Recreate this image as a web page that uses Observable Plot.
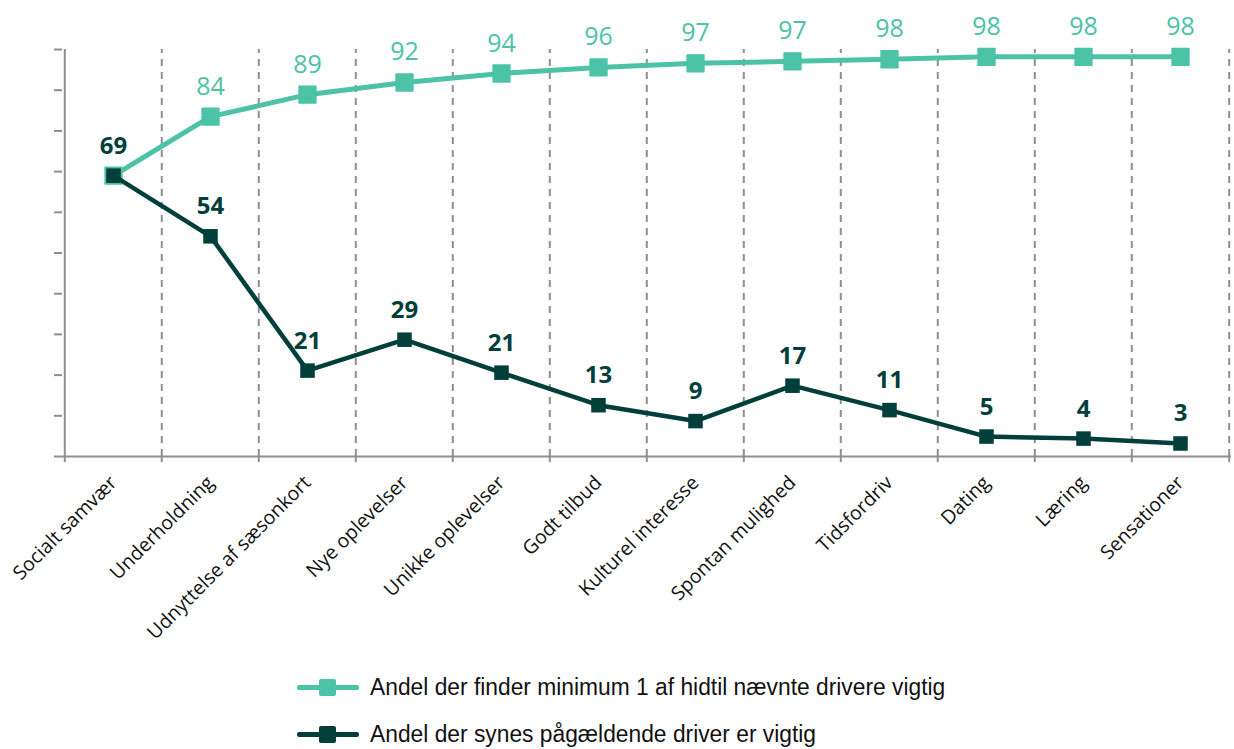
<!DOCTYPE html>
<html><head><meta charset="utf-8">
<script src="https://cdn.jsdelivr.net/npm/d3@7"></script>
<script src="https://cdn.jsdelivr.net/npm/@observablehq/plot@0.6"></script>
<style>
body{margin:0;background:#fff;width:1234px;height:749px;overflow:hidden;position:relative;}
#legend{position:absolute;left:297px;top:0;font-family:"Liberation Sans",Arial,sans-serif;font-size:23.5px;color:#111;}
.row{position:absolute;left:0;display:flex;align-items:center;height:28px;line-height:28px;white-space:nowrap;}
.row span{display:inline-block;transform:scaleX(0.97);transform-origin:left center;}
.sw{position:relative;width:62px;height:20px;margin-right:11px;}
.sw .ln{position:absolute;left:0;right:0;top:8px;height:5px;border-radius:2px;}
.sw .sq{position:absolute;left:22px;top:2px;width:17px;height:17px;border-radius:2px;}
</style></head>
<body>
<div id="chart"></div>
<div id="legend"></div>
<script>
const categories = ["Socialt samvær","Underholdning","Udnyttelse af sæsonkort","Nye oplevelser","Unikke oplevelser","Godt tilbud","Kulturel interesse","Spontan mulighed","Tidsfordriv","Dating","Læring","Sensationer"];
const minimumOne = [69, 83.5, 88.9, 91.9, 94.1, 95.6, 96.6, 97.1, 97.6, 98.2, 98.2, 98.2];
const thisDriver = [69, 54.1, 21.1, 28.7, 20.6, 12.6, 8.7, 17.4, 11.4, 4.9, 4.4, 3.2];
const seriesNames = ["Andel der finder minimum 1 af hidtil nævnte drivere vigtig","Andel der synes pågældende driver er vigtig"];
const teal = "#4cc2a6", dark = "#023f3b", grid = "#8f8f8f";

const rowsA = categories.map((c,i)=>({cat:c, v:minimumOne[i]}));
const rowsB = categories.map((c,i)=>({cat:c, v:thisDriver[i]}));
const W = 1234, H = 640, mL = 62, mR = 3;
const step = (W - mL - mR) / categories.length;

const chart = Plot.plot({
  width: W, height: H,
  marginLeft: mL, marginRight: mR, marginTop: 49, marginBottom: H - 456,
  style: {fontFamily: "'Open Sans', sans-serif", background: "#fff"},
  x: {type: "point", domain: categories, padding: 0.5, align: 0.5},
  y: {domain: [0, 100]},
  marks: [
    Plot.ruleX(categories.slice(1), {y1: 0, y2: 100, dx: -step/2, stroke: grid, strokeWidth: 2, strokeDasharray: "7,6"}),
    Plot.ruleX(categories.slice(-1), {y1: 0, y2: 100, dx: step/2, stroke: grid, strokeWidth: 2, strokeDasharray: "7,6"}),
    Plot.ruleX(categories, {y1: 0, y2: -1.5, dx: -step/2, stroke: grid, strokeWidth: 2}),
    Plot.ruleX(categories.slice(-1), {y1: 0, y2: -1.5, dx: step/2, stroke: grid, strokeWidth: 2}),
    Plot.ruleX(categories.slice(0,1), {y1: 0, y2: 100, dx: -step/2, stroke: grid, strokeWidth: 2}),
    Plot.axisY({ticks: d3.range(0, 101, 10), tickSize: 8, tickFormat: () => "", stroke: grid, strokeWidth: 2, strokeOpacity: 1, label: null}),
    Plot.ruleY([0], {stroke: grid, strokeWidth: 2}),
    Plot.axisX({tickSize: 0, tickRotate: -45, tickPadding: 16, fontSize: 19.5, fill: "#111", label: null, dx: 0, dy: 7}),
    Plot.line(rowsA, {x: "cat", y: "v", stroke: teal, strokeWidth: 5}),
    Plot.dot(rowsA, {x: "cat", y: "v", symbol: "square", r: 9.5, fill: teal, stroke: teal, strokeWidth: 1.5, strokeLinejoin: "round"}),
    Plot.line(rowsB, {x: "cat", y: "v", stroke: dark, strokeWidth: 4.5}),
    Plot.dot(rowsB, {x: "cat", y: "v", symbol: "square", r: 8.2, fill: dark}),
    Plot.text(rowsA.slice(1), {x: "cat", y: "v", text: d => Math.round(d.v), dy: -22, lineAnchor: "bottom", fill: teal, fontSize: 25, fontWeight: 500}),
    Plot.text(rowsB, {x: "cat", y: "v", text: d => Math.round(d.v), dy: -22, lineAnchor: "bottom", fill: dark, fontSize: 24, fontWeight: 700})
  ]
});
document.getElementById("chart").append(chart);

const lg = document.getElementById("legend");
const rowTops = [673, 720];
[teal, dark].forEach((col, i) => {
  const row = document.createElement("div"); row.className = "row";
  row.style.top = rowTops[i] + "px";
  row.innerHTML = `<div class="sw"><div class="ln" style="background:${col}"></div><div class="sq" style="background:${col}"></div></div><span>${seriesNames[i]}</span>`;
  lg.append(row);
});
</script>
</body></html>
